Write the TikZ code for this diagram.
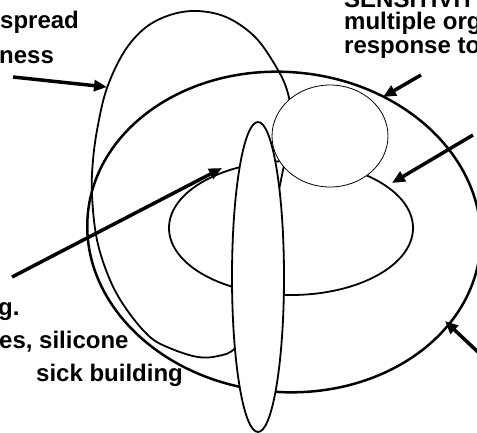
\documentclass[tikz,border=0pt]{standalone}
\usepackage{fontspec}
\setmainfont{Liberation Sans}
\usetikzlibrary{arrows.meta}
\begin{document}
\begin{tikzpicture}[x=1pt,y=-1pt,
  lbl/.style={anchor=base west, inner sep=0pt, font=\fontsize{24}{26}\selectfont\bfseries},
  pointer/.style={line width=3.5pt, -{Triangle[length=13pt,width=11pt]}},
  bigring/.style={line width=2.5pt},
  ring/.style={line width=1.8pt},
  thinring/.style={line width=0.8pt},
  ]
\useasboundingbox (0,0) rectangle (477,432);
\clip (0,0) rectangle (477,432);
% big ellipse
\draw[bigring, rotate around={-5:(284,232)}] (284,232) ellipse [x radius=197, y radius=160];
% tall oval
\draw[ring] plot[smooth cycle, tension=0.6] coordinates {(197,11) (226,17) (253,35) (272,60) (287,90) (291,125) (282,175) (266,250) (250,318) (235,348) (218,356) (198,357) (172,349) (150,337) (127,310) (110,280) (97,240) (92,195) (93,160) (98,125) (107,88) (124,52) (145,28) (170,15)};
% inner ellipse
\draw[ring] (291,228) ellipse [x radius=122, y radius=67];
% small circle
\draw[thinring, fill=white] (330,136) ellipse [x radius=58, y radius=51];
% thin tall ellipse in front
\draw[ring, fill=white] (258,277) ellipse [x radius=26, y radius=155];
% arrows
\coordinate (a1s) at (13,77);  \coordinate (a1e) at (107,87);
\coordinate (a2s) at (421,75); \coordinate (a2e) at (383,97);
\coordinate (a3s) at (473,135); \coordinate (a3e) at (392,183);
\coordinate (a4s) at (12,277); \coordinate (a4e) at (222,168);
\coordinate (a5s) at (478,352); \coordinate (a5e) at (445,321);
\draw[pointer] (a1s) -- (a1e);
\draw[pointer] (a2s) -- (a2e);
\draw[pointer] (a3s) -- (a3e);
\draw[pointer] (a4s) -- (a4e);
\draw[pointer] (a5s) -- (a5e);
% texts
\node[lbl] (t1) at (0,28) {spread};
\node[lbl] (t2) at (-1,63) {ness};
\node[lbl] (t3) at (344,7) {SENSITIVIT};
\node[lbl] (t4) at (344,29) {multiple org};
\node[lbl] (t5) at (344,53) {response to};
\node[lbl] (t6) at (-2,315) {g.};
\node[lbl] (t7) at (-1,348) {es, silicone};
\node[lbl] (t8) at (36,381) {sick building};
\end{tikzpicture}
\end{document}
